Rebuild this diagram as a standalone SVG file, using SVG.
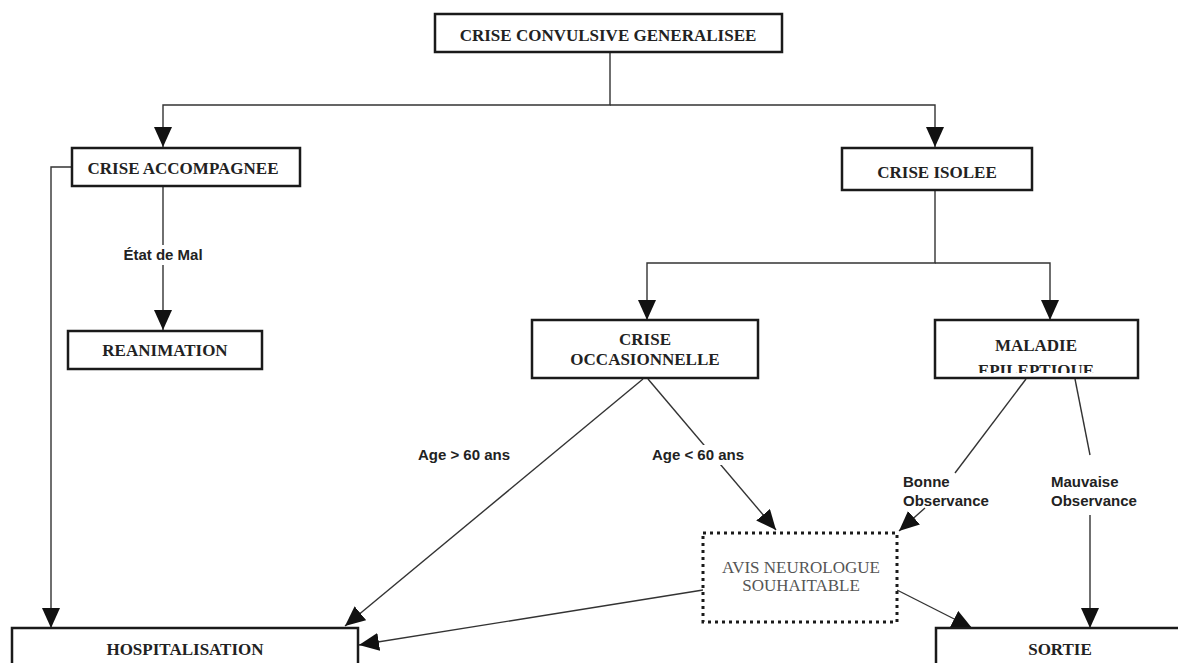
<svg xmlns="http://www.w3.org/2000/svg" width="1178" height="663" viewBox="0 0 1178 663">
<style>
.box{fill:#fff;stroke:#1a1a1a;stroke-width:2.5}
.dot{fill:#fff;stroke:#1a1a1a;stroke-width:3;stroke-dasharray:3 4}
.t{font-family:"Liberation Serif",serif;font-weight:bold;font-size:17px;fill:#222;text-anchor:middle}
.tg{font-family:"Liberation Serif",serif;font-size:17px;fill:#555;text-anchor:middle}
.lab{font-family:"Liberation Sans",Arial,sans-serif;font-weight:bold;font-size:15px;fill:#222}
.c{fill:none;stroke:#333;stroke-width:1.4}
.bg{fill:#fff}
</style>
<defs>
<marker id="ah" markerUnits="userSpaceOnUse" markerWidth="22" markerHeight="18" refX="20" refY="9" orient="auto">
<path d="M0,0 L20,9 L0,18 Z" fill="#111"/>
</marker>
<clipPath id="clipMal"><rect x="936" y="321" width="201" height="52"/></clipPath>
</defs>
<g id="connectors">
<path class="c" d="M610,52 V105 H163 V147" marker-end="url(#ah)"/>
<path class="c" d="M610,105 H935 V147" marker-end="url(#ah)"/>
<path class="c" d="M72,167 H51 V628" marker-end="url(#ah)"/>
<path class="c" d="M163,186 V330" marker-end="url(#ah)"/>
<path class="c" d="M935,190 V263 H647 V320" marker-end="url(#ah)"/>
<path class="c" d="M935,263 H1050 V320" marker-end="url(#ah)"/>
<path class="c" d="M643,379 L345,626" marker-end="url(#ah)"/>
<path class="c" d="M648,379 L776,530" marker-end="url(#ah)"/>
<path class="c" d="M1026,379 L955,473"/>
<path class="c" d="M925,508 L899,531" marker-end="url(#ah)"/>
<path class="c" d="M1075,379 L1090,455"/>
<path class="c" d="M1090,515 V628" marker-end="url(#ah)"/>
<path class="c" d="M703,590 L359,645" marker-end="url(#ah)"/>
<path class="c" d="M897,590 L972,628" marker-end="url(#ah)"/>
<rect class="bg" x="122" y="245" width="82" height="20"/>
<text class="lab" x="163" y="260" text-anchor="middle">État de Mal</text>
<rect class="bg" x="414" y="445" width="100" height="20"/>
<text class="lab" x="464" y="460" text-anchor="middle">Age &gt; 60 ans</text>
<rect class="bg" x="648" y="445" width="100" height="20"/>
<text class="lab" x="698" y="460" text-anchor="middle">Age &lt; 60 ans</text>
<text class="lab" x="903" y="487">Bonne</text>
<text class="lab" x="903" y="506">Observance</text>
<text class="lab" x="1051" y="487">Mauvaise</text>
<text class="lab" x="1051" y="506">Observance</text>
</g>
<g id="n-top">
<rect class="box" x="435" y="14" width="347" height="38"/>
<text class="t" x="608" y="41">CRISE CONVULSIVE GENERALISEE</text>
</g>
<g id="n-accomp">
<rect class="box" x="72" y="148" width="228" height="38"/>
<text class="t" x="183" y="174">CRISE ACCOMPAGNEE</text>
</g>
<g id="n-isolee">
<rect class="box" x="842" y="148" width="190" height="42"/>
<text class="t" x="937" y="178">CRISE ISOLEE</text>
</g>
<g id="n-reanim">
<rect class="box" x="68" y="331" width="194" height="38"/>
<text class="t" x="165" y="356">REANIMATION</text>
</g>
<g id="n-occas">
<rect class="box" x="532" y="320" width="226" height="58"/>
<text class="t" x="645" y="345">CRISE</text>
<text class="t" x="645" y="365">OCCASIONNELLE</text>
</g>
<g id="n-epil">
<rect class="box" x="935" y="320" width="203" height="58"/>
<text class="t" x="1036" y="351">MALADIE</text>
<g clip-path="url(#clipMal)"><text class="t" x="1036" y="376">EPILEPTIQUE</text></g>
</g>
<g id="n-avis">
<rect class="dot" x="703" y="533" width="194" height="89"/>
<text class="tg" x="801" y="573">AVIS NEUROLOGUE</text>
<text class="tg" x="801" y="591">SOUHAITABLE</text>
</g>
<g id="n-hosp">
<rect class="box" x="12" y="628" width="346" height="50"/>
<text class="t" x="185" y="655">HOSPITALISATION</text>
</g>
<g id="n-sortie">
<rect class="box" x="936" y="628" width="250" height="50"/>
<text class="t" x="1060" y="655">SORTIE</text>
</g>
</svg>
